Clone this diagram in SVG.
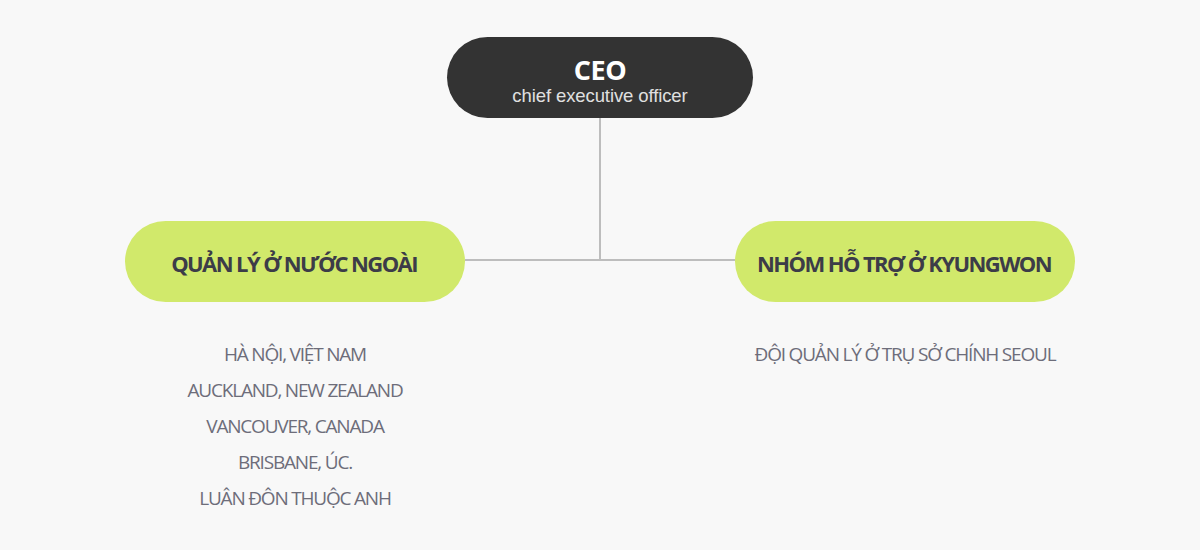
<svg xmlns="http://www.w3.org/2000/svg" width="1200" height="550" viewBox="0 0 1200 550">
<style>
.bg{fill:#f8f8f8}
.pill{fill:#d1e96b}
.ttl{font-family:"Open Sans","Noto Sans",sans-serif;font-weight:700;font-size:22px;fill:#3c3c48;text-anchor:middle;letter-spacing:-1.6px}
.item{font-family:"Open Sans","Noto Sans",sans-serif;font-size:19px;fill:#6d6d7a;text-anchor:middle;letter-spacing:-1.2px}
.conn{stroke:#bdbdbd;stroke-width:2;fill:none}
</style>
<rect class="bg" x="0" y="0" width="1200" height="550"/>
<g id="connectors">
<path class="conn" d="M600 118 V260 M465 260 H735"/>
</g>
<g id="ceo">
<rect x="447" y="37" width="306" height="81" rx="40.5" fill="#333333"/>
<text x="600" y="80" font-family="'Open Sans','Noto Sans',sans-serif" font-weight="700" font-size="27" fill="#ffffff" text-anchor="middle" letter-spacing="-0.5">CEO</text>
<text x="600" y="102" font-family="'Liberation Sans',Arial,sans-serif" font-size="18.5" fill="#e0e0e0" text-anchor="middle" letter-spacing="-0.1">chief executive officer</text>
</g>
<g id="overseas">
<rect class="pill" x="125" y="221" width="340" height="81" rx="40.5"/>
<text class="ttl" x="294" y="272">QUẢN LÝ Ở NƯỚC NGOÀI</text>
<text class="item" x="295" y="361">HÀ NỘI, VIỆT NAM</text>
<text class="item" x="295" y="397">AUCKLAND, NEW ZEALAND</text>
<text class="item" x="295" y="433">VANCOUVER, CANADA</text>
<text class="item" x="295" y="469">BRISBANE, ÚC.</text>
<text class="item" x="295" y="505">LUÂN ĐÔN THUỘC ANH</text>
</g>
<g id="support">
<rect class="pill" x="735" y="221" width="340" height="81" rx="40.5"/>
<text class="ttl" x="904" y="272">NHÓM HỖ TRỢ Ở KYUNGWON</text>
<text class="item" x="905" y="361">ĐỘI QUẢN LÝ Ở TRỤ SỞ CHÍNH SEOUL</text>
</g>
</svg>
